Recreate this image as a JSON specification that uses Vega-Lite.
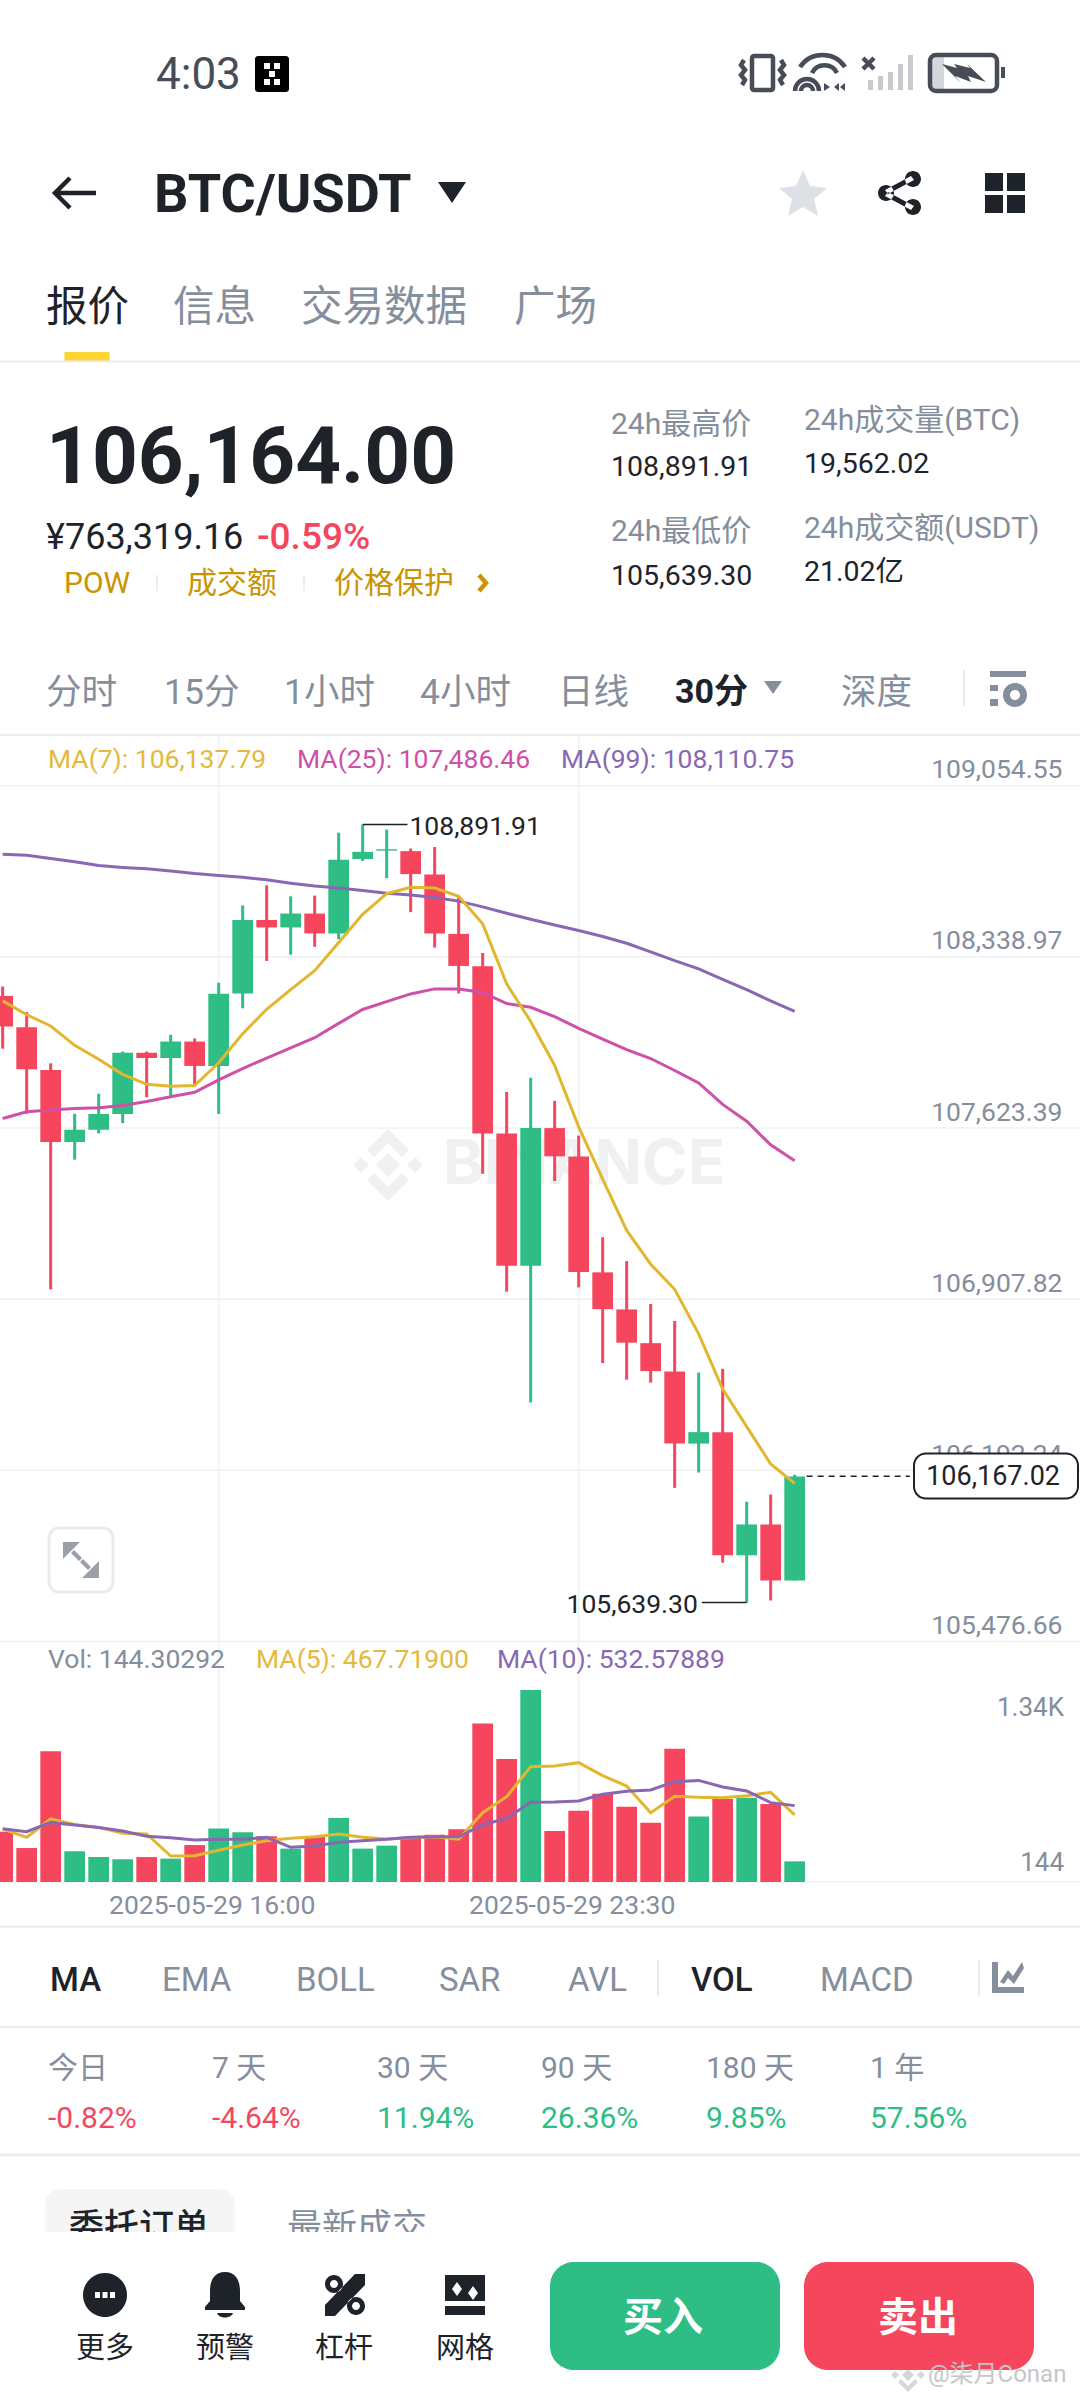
{
"$schema":"https://vega.github.io/schema/vega-lite/v6.json",
"width":1080,"height":2400,"padding":0,"autosize":{"type":"none"},"background":"#ffffff",
"config":{"view":{"stroke":null},"axis":{"labelFont":"Roboto"}},
"datasets":{
"candles":[
{"t":"2025-05-29T11:30:00","dir":"down","open":108175,"close":108048,"high":108215,"low":107955,"vol":351,"ma7":108155,"ma25":107663,"ma99":108768,"vma5":370,"vma10":372},
{"t":"2025-05-29T12:00:00","dir":"down","open":108045,"close":107869,"high":108108,"low":107683,"vol":237,"ma7":108097,"ma25":107691,"ma99":108764,"vma5":312,"vma10":351},
{"t":"2025-05-29T12:30:00","dir":"down","open":107866,"close":107565,"high":107894,"low":106949,"vol":912,"ma7":108050,"ma25":107699,"ma99":108750,"vma5":440,"vma10":416},
{"t":"2025-05-29T13:00:00","dir":"up","open":107565,"close":107616,"high":107683,"low":107491,"vol":214,"ma7":107969,"ma25":107705,"ma99":108737,"vma5":402,"vma10":398},
{"t":"2025-05-29T13:30:00","dir":"up","open":107616,"close":107682,"high":107767,"low":107601,"vol":174,"ma7":107911,"ma25":107708,"ma99":108721,"vma5":381,"vma10":381},
{"t":"2025-05-29T14:00:00","dir":"up","open":107682,"close":107938,"high":107943,"low":107644,"vol":158,"ma7":107848,"ma25":107718,"ma99":108713,"vma5":340,"vma10":356},
{"t":"2025-05-29T14:30:00","dir":"down","open":107938,"close":107916,"high":107943,"low":107752,"vol":174,"ma7":107806,"ma25":107734,"ma99":108707,"vma5":335,"vma10":319},
{"t":"2025-05-29T15:00:00","dir":"up","open":107916,"close":107985,"high":108013,"low":107759,"vol":163,"ma7":107798,"ma25":107754,"ma99":108698,"vma5":181,"vma10":309},
{"t":"2025-05-29T15:30:00","dir":"down","open":107985,"close":107883,"high":107998,"low":107801,"vol":258,"ma7":107801,"ma25":107773,"ma99":108687,"vma5":184,"vma10":293},
{"t":"2025-05-29T16:00:00","dir":"up","open":107883,"close":108185,"high":108231,"low":107682,"vol":374,"ma7":107896,"ma25":107825,"ma99":108679,"vma5":221,"vma10":298},
{"t":"2025-05-29T16:30:00","dir":"up","open":108186,"close":108493,"high":108554,"low":108124,"vol":347,"ma7":108017,"ma25":107872,"ma99":108672,"vma5":258,"vma10":298},
{"t":"2025-05-29T17:00:00","dir":"down","open":108493,"close":108462,"high":108638,"low":108322,"vol":319,"ma7":108120,"ma25":107916,"ma99":108661,"vma5":288,"vma10":312},
{"t":"2025-05-29T17:30:00","dir":"up","open":108462,"close":108520,"high":108592,"low":108348,"vol":233,"ma7":108202,"ma25":107958,"ma99":108647,"vma5":305,"vma10":242},
{"t":"2025-05-29T18:00:00","dir":"down","open":108520,"close":108437,"high":108595,"low":108381,"vol":314,"ma7":108281,"ma25":108001,"ma99":108635,"vma5":316,"vma10":251},
{"t":"2025-05-29T18:30:00","dir":"up","open":108437,"close":108745,"high":108858,"low":108413,"vol":447,"ma7":108399,"ma25":108061,"ma99":108627,"vma5":335,"vma10":277},
{"t":"2025-05-29T19:00:00","dir":"up","open":108748,"close":108778,"high":108891.91,"low":108740,"vol":233,"ma7":108517,"ma25":108119,"ma99":108616,"vma5":312,"vma10":288},
{"t":"2025-05-29T19:30:00","dir":"up","open":108783,"close":108789,"high":108871,"low":108668,"vol":254,"ma7":108603,"ma25":108152,"ma99":108605,"vma5":300,"vma10":298},
{"t":"2025-05-29T20:00:00","dir":"down","open":108781,"close":108685,"high":108792,"low":108526,"vol":312,"ma7":108630,"ma25":108184,"ma99":108598,"vma5":309,"vma10":312},
{"t":"2025-05-29T20:30:00","dir":"down","open":108683,"close":108437,"high":108798,"low":108378,"vol":330,"ma7":108627,"ma25":108205,"ma99":108587,"vma5":316,"vma10":316},
{"t":"2025-05-29T21:00:00","dir":"down","open":108435,"close":108301,"high":108595,"low":108186,"vol":368,"ma7":108592,"ma25":108205,"ma99":108572,"vma5":298,"vma10":316},
{"t":"2025-05-29T21:30:00","dir":"down","open":108300,"close":107601,"high":108355,"low":107432,"vol":1107,"ma7":108477,"ma25":108190,"ma99":108548,"vma5":484,"vma10":400},
{"t":"2025-05-29T22:00:00","dir":"down","open":107601,"close":107048,"high":107774,"low":106939,"vol":858,"ma7":108226,"ma25":108144,"ma99":108521,"vma5":595,"vma10":444},
{"t":"2025-05-29T22:30:00","dir":"up","open":107048,"close":107623,"high":107834,"low":106476,"vol":1340,"ma7":108069,"ma25":108128,"ma99":108496,"vma5":805,"vma10":556},
{"t":"2025-05-29T23:00:00","dir":"down","open":107623,"close":107505,"high":107737,"low":107402,"vol":356,"ma7":107885,"ma25":108089,"ma99":108472,"vma5":809,"vma10":558},
{"t":"2025-05-29T23:30:00","dir":"down","open":107504,"close":107021,"high":107592,"low":106957,"vol":498,"ma7":107628,"ma25":108040,"ma99":108449,"vma5":833,"vma10":565},
{"t":"2025-05-30T00:00:00","dir":"down","open":107020,"close":106866,"high":107167,"low":106641,"vol":616,"ma7":107410,"ma25":107995,"ma99":108424,"vma5":742,"vma10":612},
{"t":"2025-05-30T00:30:00","dir":"down","open":106865,"close":106726,"high":107067,"low":106571,"vol":526,"ma7":107195,"ma25":107951,"ma99":108396,"vma5":670,"vma10":633},
{"t":"2025-05-30T01:00:00","dir":"down","open":106724,"close":106607,"high":106888,"low":106559,"vol":414,"ma7":107054,"ma25":107914,"ma99":108360,"vma5":484,"vma10":642},
{"t":"2025-05-30T01:30:00","dir":"down","open":106605,"close":106304,"high":106817,"low":106119,"vol":930,"ma7":106949,"ma25":107864,"ma99":108323,"vma5":598,"vma10":700},
{"t":"2025-05-30T02:00:00","dir":"up","open":106304,"close":106352,"high":106601,"low":106183,"vol":458,"ma7":106763,"ma25":107812,"ma99":108289,"vma5":591,"vma10":709},
{"t":"2025-05-30T02:30:00","dir":"down","open":106352,"close":105837,"high":106617,"low":105806,"vol":579,"ma7":106532,"ma25":107722,"ma99":108245,"vma5":588,"vma10":663},
{"t":"2025-05-30T03:00:00","dir":"up","open":105837,"close":105966,"high":106061,"low":105639.3,"vol":588,"ma7":106375,"ma25":107652,"ma99":108202,"vma5":602,"vma10":635},
{"t":"2025-05-30T03:30:00","dir":"down","open":105966,"close":105732,"high":106091,"low":105648,"vol":544,"ma7":106219,"ma25":107553,"ma99":108155,"vma5":626,"vma10":554},
{"t":"2025-05-30T04:00:00","dir":"up","open":105732,"close":106167,"high":106174,"low":105732,"vol":144.3,"ma7":106138,"ma25":107487,"ma99":108111,"vma5":468,"vma10":533}
],
"ui":[
{"id":0,"key":"status","text":"4:03"},{"id":1,"key":"title","text":"BTC/USDT"},
{"id":2,"key":"tabOn","text":"报价"},{"id":3,"key":"tab","text":"信息"},{"id":4,"key":"tab","text":"交易数据"},{"id":5,"key":"tab","text":"广场"},
{"id":6,"key":"price","text":"106,164.00"},{"id":7,"key":"fiat","text":"¥763,319.16"},{"id":8,"key":"chg","text":"-0.59%"},
{"id":9,"key":"gold","text":"POW"},{"id":10,"key":"gold","text":"成交额"},{"id":11,"key":"gold","text":"价格保护"},
{"id":12,"key":"statLabel","text":"24h最高价"},{"id":13,"key":"statLabel","text":"24h最低价"},{"id":14,"key":"statLabel","text":"24h成交量(BTC)"},{"id":15,"key":"statLabel","text":"24h成交额(USDT)"},
{"id":16,"key":"statVal","text":"108,891.91"},{"id":17,"key":"statVal","text":"105,639.30"},{"id":18,"key":"statVal","text":"19,562.02"},{"id":19,"key":"statVal","text":"21.02亿"},
{"id":20,"key":"intv","text":"分时"},{"id":21,"key":"intv","text":"15分"},{"id":22,"key":"intv","text":"1小时"},{"id":23,"key":"intv","text":"4小时"},{"id":24,"key":"intv","text":"日线"},{"id":25,"key":"intv","text":"深度"},{"id":26,"key":"intvOn","text":"30分"},
{"id":27,"key":"maY","text":"MA(7): 106,137.79"},{"id":28,"key":"maP","text":"MA(25): 107,486.46"},{"id":29,"key":"maV","text":"MA(99): 108,110.75"},
{"id":30,"key":"gray","text":"Vol: 144.30292"},{"id":31,"key":"maY","text":"MA(5): 467.71900"},{"id":32,"key":"maV","text":"MA(10): 532.57889"},
{"id":33,"key":"axisR","text":"1.34K"},{"id":34,"key":"axisR","text":"144"},{"id":35,"key":"tagText","text":"106,167.02"},
{"id":36,"key":"indOn","text":"MA"},{"id":37,"key":"ind","text":"EMA"},{"id":38,"key":"ind","text":"BOLL"},{"id":39,"key":"ind","text":"SAR"},{"id":40,"key":"ind","text":"AVL"},{"id":41,"key":"indOn","text":"VOL"},{"id":42,"key":"ind","text":"MACD"},
{"id":43,"key":"period","text":"今日"},{"id":44,"key":"period","text":"7 天"},{"id":45,"key":"period","text":"30 天"},{"id":46,"key":"period","text":"90 天"},{"id":47,"key":"period","text":"180 天"},{"id":48,"key":"period","text":"1 年"},
{"id":49,"key":"pDown","text":"-0.82%"},{"id":50,"key":"pDown","text":"-4.64%"},{"id":51,"key":"pUp","text":"11.94%"},{"id":52,"key":"pUp","text":"26.36%"},{"id":53,"key":"pUp","text":"9.85%"},{"id":54,"key":"pUp","text":"57.56%"},
{"id":55,"key":"oTabOn","text":"委托订单"},{"id":56,"key":"oTab","text":"最新成交"},
{"id":57,"key":"nav","text":"更多"},{"id":58,"key":"nav","text":"预警"},{"id":59,"key":"nav","text":"杠杆"},{"id":60,"key":"nav","text":"网格"},
{"id":61,"key":"btn","text":"买入"},{"id":62,"key":"btn","text":"卖出"},{"id":63,"key":"wm","text":"@柒月Conan"},
{"id":64,"key":"okx"},{"id":64,"key":"okxDots"},{"id":65,"key":"vibrate"},{"id":66,"key":"wifi"},{"id":66,"key":"wifiArrows"},{"id":67,"key":"sigBars"},{"id":67,"key":"sigX"},
{"id":68,"key":"batFill"},{"id":68,"key":"batOut"},{"id":68,"key":"batNub"},{"id":68,"key":"bolt"},
{"id":69,"key":"back"},{"id":70,"key":"caret"},{"id":71,"key":"star"},{"id":72,"key":"share"},{"id":73,"key":"grid"},{"id":74,"key":"chevron"},
{"id":75,"key":"div"},{"id":76,"key":"div"},{"id":77,"key":"caret2"},{"id":78,"key":"divTall"},{"id":79,"key":"settings"},
{"id":80,"key":"expandBox"},{"id":80,"key":"expandArrows"},{"id":81,"key":"divTall"},{"id":82,"key":"divTall"},{"id":83,"key":"indicator"},
{"id":84,"key":"more"},{"id":84,"key":"moreDots"},{"id":85,"key":"bell"},{"id":86,"key":"percent"},{"id":87,"key":"gridBlock"},{"id":87,"key":"gridMarks"},{"id":88,"key":"wmark"},
{"id":89,"key":"underline"},{"id":90,"key":"tabbg"},{"id":91,"key":"navbg"},{"id":92,"key":"buy"},{"id":93,"key":"sell"},{"id":94,"key":"tag"},
{"id":95,"key":"sep"},{"id":96,"key":"sep"},{"id":97,"key":"sep"},{"id":98,"key":"sep"},{"id":99,"key":"sepThick"}
]
},
"resolve":{"scale":{"x":"independent","y":"independent","color":"independent","shape":"independent"}},
"layer":[
{
"data":{"values":[{"id":0,"key":"logo"},{"id":1,"key":"name","text":"BINANCE"}]},
"encoding":{
"x":{"field":"id","type":"quantitative","axis":null,"scale":{"domain":[0,1],"range":[388,584],"nice":false,"zero":false}},
"y":{"field":"id","type":"quantitative","axis":null,"scale":{"domain":[0,1],"range":[1165,1165],"nice":false,"zero":false}}
},
"layer":[
{"transform":[{"filter":"datum.key=='logo'"}],"mark":{"type":"point","filled":true,"size":4,"opacity":1,"color":"#EEF0F1","shape":"M0-12L12 0L0 12L-12 0Z M-27-8L-19 0L-27 8L-35 0Z M27-8L35 0L27 8L19 0Z M0-36L21-15L14-8L0-22L-14-8L-21-15Z M0 36L21 15L14 8L0 22L-14 8L-21 15Z"}},
{"transform":[{"filter":"datum.key=='name'"}],"mark":{"type":"text","font":"Inter","fontWeight":700,"fontSize":62,"align":"center","baseline":"middle","color":"#EEF0F1"},"encoding":{"text":{"field":"text"}}}
]
},
{
"data":{"values":[{"price":105476.66},{"price":106192.24},{"price":106907.82},{"price":107623.39},{"price":108338.97},{"price":109054.55}]},
"mark":{"type":"rule","color":"#EEF0F2","strokeWidth":1.5},
"encoding":{"y":{"field":"price","type":"quantitative","scale":{"domain":[105476.66,109054.55],"range":[1641.5,785.7],"nice":false,"zero":false},
"axis":{"orient":"right","offset":-18,"values":[105476.66,106192.24,106907.82,107623.39,108338.97,109054.55],"format":",.2f","title":null,"domain":false,"ticks":false,"grid":false,"labelAlign":"right","labelBaseline":"bottom","labelOffset":-2,"labelPadding":0,"labelColor":"#848E9C","labelFontSize":26.5,"labelOverlap":false}}}
},
{
"encoding":{"x":{"field":"t","type":"temporal","axis":null,"scale":{"domain":[{"year":2025,"month":5,"date":29,"hours":11,"minutes":30},{"year":2025,"month":5,"date":30,"hours":4}],"range":[2.67,794.67],"nice":false,"padding":0}}},
"layer":[
{"data":{"values":[{"t":"2025-05-29T16:00:00","top":109266,"bottom":104472},{"t":"2025-05-29T23:30:00","top":109266,"bottom":104472}]},
"mark":{"type":"rule","color":"#EEF0F2","strokeWidth":1.5},
"encoding":{"y":{"field":"top","type":"quantitative","axis":null,"scale":{"domain":[105476.66,109054.55],"range":[1641.5,785.7],"nice":false,"zero":false}},"y2":{"field":"bottom"}}},
{"data":{"name":"candles"},"mark":{"type":"rule","strokeWidth":3},
"encoding":{"y":{"field":"low","type":"quantitative","scale":{"domain":[105476.66,109054.55],"range":[1641.5,785.7],"nice":false,"zero":false}},"y2":{"field":"high"},
"color":{"field":"dir","type":"nominal","legend":null,"scale":{"domain":["up","down"],"range":["#2EBD85","#F6465D"]}}}},
{"data":{"name":"candles"},"mark":{"type":"bar","width":20.7},
"encoding":{"y":{"field":"open","type":"quantitative","scale":{"domain":[105476.66,109054.55],"range":[1641.5,785.7],"nice":false,"zero":false}},"y2":{"field":"close"},
"color":{"field":"dir","type":"nominal","legend":null,"scale":{"domain":["up","down"],"range":["#2EBD85","#F6465D"]}}}},
{"data":{"name":"candles"},"mark":{"type":"line","color":"#8A67B2","strokeWidth":3},
"encoding":{"y":{"field":"ma99","type":"quantitative","scale":{"domain":[105476.66,109054.55],"range":[1641.5,785.7],"nice":false,"zero":false}}}},
{"data":{"name":"candles"},"mark":{"type":"line","color":"#CE50A8","strokeWidth":3},
"encoding":{"y":{"field":"ma25","type":"quantitative","scale":{"domain":[105476.66,109054.55],"range":[1641.5,785.7],"nice":false,"zero":false}}}},
{"data":{"name":"candles"},"mark":{"type":"line","color":"#E3B62F","strokeWidth":3},
"encoding":{"y":{"field":"ma7","type":"quantitative","scale":{"domain":[105476.66,109054.55],"range":[1641.5,785.7],"nice":false,"zero":false}}}},
{"data":{"values":[{"t":"2025-05-29T19:00:00","t2":"2025-05-29T19:56:00","price":108891.91},{"t":"2025-05-30T03:00:00","t2":"2025-05-30T02:04:00","price":105639.3}]},
"mark":{"type":"rule","color":"#1E2329","strokeWidth":1.5},
"encoding":{"y":{"field":"price","type":"quantitative","scale":{"domain":[105476.66,109054.55],"range":[1641.5,785.7],"nice":false,"zero":false}},"x2":{"field":"t2"}}},
{"data":{"values":[{"t":"2025-05-30T04:15:00","t2":"2025-05-30T06:24:00","price":106167.02}]},
"mark":{"type":"rule","color":"#1E2329","strokeWidth":1.5,"strokeDash":[6,5]},
"encoding":{"y":{"field":"price","type":"quantitative","scale":{"domain":[105476.66,109054.55],"range":[1641.5,785.7],"nice":false,"zero":false}},"x2":{"field":"t2"}}},
{"data":{"values":[{"t":"2025-05-29T19:56:00","price":108891.91,"text":"108,891.91"}]},
"mark":{"type":"text","align":"left","baseline":"middle","dx":2,"dy":2,"font":"Roboto","fontSize":26.5,"color":"#1E2329"},
"encoding":{"y":{"field":"price","type":"quantitative","scale":{"domain":[105476.66,109054.55],"range":[1641.5,785.7],"nice":false,"zero":false}},"text":{"field":"text"}}},
{"data":{"values":[{"t":"2025-05-30T02:04:00","price":105639.3,"text":"105,639.30"}]},
"mark":{"type":"text","align":"right","baseline":"middle","dx":-4,"dy":2,"font":"Roboto","fontSize":26.5,"color":"#1E2329"},
"encoding":{"y":{"field":"price","type":"quantitative","scale":{"domain":[105476.66,109054.55],"range":[1641.5,785.7],"nice":false,"zero":false}},"text":{"field":"text"}}}
]
},
{
"data":{"values":[{"vol":0}]},
"mark":{"type":"rule","color":"#EEF0F2","strokeWidth":1.5},
"encoding":{"y":{"field":"vol","type":"quantitative","axis":null,"scale":{"domain":[0,1340],"range":[1882,1690],"nice":false}}}
},
{
"data":{"name":"candles"},
"encoding":{"x":{"field":"t","type":"temporal","scale":{"domain":[{"year":2025,"month":5,"date":29,"hours":11,"minutes":30},{"year":2025,"month":5,"date":30,"hours":4}],"range":[2.67,794.67],"nice":false,"padding":0},
"axis":{"orient":"bottom","offset":-518,"title":null,"domain":false,"ticks":false,"grid":false,"values":[{"year":2025,"month":5,"date":29,"hours":16},{"year":2025,"month":5,"date":29,"hours":23,"minutes":30}],"format":"%Y-%m-%d %H:%M","labelColor":"#848E9C","labelFontSize":26.5,"labelPadding":10,"labelOffset":-7,"labelOverlap":false,"labelFlush":false,"labelLimit":400}}},
"layer":[
{"mark":{"type":"bar","width":20.7},
"encoding":{"y":{"field":"vol","type":"quantitative","axis":null,"scale":{"domain":[0,1340],"range":[1882,1690],"nice":false}},
"color":{"field":"dir","type":"nominal","legend":null,"scale":{"domain":["up","down"],"range":["#2EBD85","#F6465D"]}}}},
{"mark":{"type":"line","color":"#E3B62F","strokeWidth":3},
"encoding":{"y":{"field":"vma5","type":"quantitative","scale":{"domain":[0,1340],"range":[1882,1690],"nice":false}}}},
{"mark":{"type":"line","color":"#8A67B2","strokeWidth":3},
"encoding":{"y":{"field":"vma10","type":"quantitative","scale":{"domain":[0,1340],"range":[1882,1690],"nice":false}}}}
]
},
{
"data":{"name":"ui"},
"encoding":{
"x":{"field":"id","type":"quantitative","axis":null,"scale":{"nice":false,"zero":false,
"domain":[0,1,2,3,4,5,6,7,8,9,10,11,12,13,14,15,16,17,18,19,20,21,22,23,24,25,26,27,28,29,30,31,32,33,34,35,36,37,38,39,40,41,42,43,44,45,46,47,48,49,50,51,52,53,54,55,56,57,58,59,60,61,62,63,64,65,66,67,68,69,70,71,72,73,74,75,76,77,78,79,80,81,82,83,84,85,86,87,88,89,90,91,92,93,94,95,96,97,98,99],
"range":[156,154,46,173,301,514,46,46,257,64,187,334,611,611,804,804,611,611,804,804,46,164,284,420,558,841,675,48,297,561,48,256,497,1064,1064,1060,50,162,296,439,568,691,820,48,212,377,541,706,870,48,212,377,541,706,870,69,287,105,225,344,465,663,918,928,272,762,821,888,966,76,452,803,900,1005,482,157,304,773,964,1008,81,658,979,1008,105,225,345,465,908,87,140,540,665,919,996,540,540,540,540,540]}},
"y":{"field":"id","type":"quantitative","axis":null,"scale":{"nice":false,"zero":false,
"domain":[0,1,2,3,4,5,6,7,8,9,10,11,12,13,14,15,16,17,18,19,20,21,22,23,24,25,26,27,28,29,30,31,32,33,34,35,36,37,38,39,40,41,42,43,44,45,46,47,48,49,50,51,52,53,54,55,56,57,58,59,60,61,62,63,64,65,66,67,68,69,70,71,72,73,74,75,76,77,78,79,80,81,82,83,84,85,86,87,88,89,90,91,92,93,94,95,96,97,98,99],
"range":[76,196,309,309,309,309,459,538,538,584,584,584,425,532,421,529,467,576,464,572,693,693,693,693,693,693,693,760,760,760,1660,1660,1660,1708,1863,1477,1981,1981,1981,1981,1981,1981,1981,2069,2069,2069,2069,2069,2069,2119,2119,2119,2119,2119,2119,2228,2228,2349,2349,2349,2349,2319,2319,2375,74,73,73,73,73,193,192,194,193,193,583,583,583,687,688,689,1560,1978,1978,1978,2295,2295,2295,2295,2375,356.5,2220,2316,2316,2316,1476,361.5,735,1926.7,2027,2155]}},
"color":{"field":"key","type":"nominal","legend":null,"scale":{
"domain":["status","title","tabOn","tab","price","fiat","chg","gold","statLabel","statVal","intv","intvOn","maY","maP","maV","gray","axisR","tagText","indOn","ind","period","pDown","pUp","oTabOn","oTab","nav","btn","wm","okx","okxDots","vibrate","wifi","wifiArrows","sigBars","sigX","batFill","batOut","batNub","bolt","back","caret","star","share","grid","chevron","div","caret2","divTall","settings","expandBox","expandArrows","indicator","more","moreDots","bell","percent","gridBlock","gridMarks","wmark","underline","tabbg","navbg","buy","sell","tag","sep","sepThick"],
"range":["#474D57","#1E2329","#1E2329","#848E9C","#1E2329","#1E2329","#F6465D","#C99400","#848E9C","#1E2329","#848E9C","#1E2329","#E3B93E","#CE50A8","#8A67B2","#848E9C","#848E9C","#1E2329","#1E2329","#848E9C","#848E9C","#F6465D","#2EBD85","#1E2329","#848E9C","#1E2329","#FFFFFF","#C4C6CA","#000000","#FFFFFF","#474D57","#474D57","#474D57","#C8CACD","#474D57","#D5D7DA","#474D57","#474D57","#474D57","#1E2329","#1E2329","#DDE0E5","#1E2329","#1E2329","#C99400","#EAECEF","#848E9C","#EAECEF","#848E9C","#E8EBEF","#9AA0A8","#848E9C","#1E2329","#FFFFFF","#1E2329","#1E2329","#1E2329","#FFFFFF","#D5D7DA","#FCD535","#F5F5F5","#FFFFFF","#2EBD85","#F6465D","#1E2329","#EAECEF","#EAECEF"]}},
"shape":{"field":"key","type":"nominal","legend":null,"scale":{
"domain":["okx","okxDots","vibrate","wifi","wifiArrows","sigBars","sigX","batFill","batOut","batNub","bolt","back","caret","star","share","grid","chevron","div","caret2","divTall","settings","expandBox","expandArrows","indicator","more","moreDots","bell","percent","gridBlock","gridMarks","wmark","underline","tabbg","navbg","buy","sell","tag","sep","sepThick"],
"range":[
"M-14-18H14A3 3 0 0 1 17-15V15A3 3 0 0 1 14 18H-14A3 3 0 0 1-17 15V-15A3 3 0 0 1-14-18Z",
"M-8-11H-2V-5H-8Z M2-11H8V-5H2Z M-3-3H3V3H-3Z M-8 5H-2V11H-8Z M2 5H8V11H2Z",
"M-8-17H9A2 2 0 0 1 11-15V15A2 2 0 0 1 9 17H-8A2 2 0 0 1-10 15V-15A2 2 0 0 1-8-17Z M-18-13L-21-8L-17-3L-21 2L-17 7L-20 12 M19-13L22-8L18-3L22 2L18 7L21 12",
"M-21-6A27 27 0 0 1 24-6 M-9 0A14 14 0 0 1 16 0 M-26 18A12 12 0 0 1-2 18 M-20 18A6 6 0 0 1-8 18",
"M3 10L9 14L3 18Z M13 14L18 10V18Z M24 10V18L19 14Z",
"M-20 7h5v10h-5Z M-10 3h5v14h-5Z M0-1h5v18h-5Z M10-9h5v26h-5Z M20-18h5v35h-5Z",
"M-25-15L-14-4M-14-15L-25-4",
"M-34-16H-22V16H-34Z",
"M-30-18H25A6 6 0 0 1 31-12V12A6 6 0 0 1 25 18H-30A6 6 0 0 1-36 12V-12A6 6 0 0 1-30-18Z",
"M35-6H39V5H35Z",
"M-24-9L-9-5L-12-9L4-5L1-9L20 9L2 3L5 9L-11 3L-5 10Z",
"M20 0H-20 M-6-15L-21 0L-6 15",
"M-14-10H14L0 11Z",
"M0-24L7-8L24-6L11 5L15 22L0 13L-15 22L-11 5L-24-6L-7-8Z",
"M-22 0a8 8 0 1 0 16 0a8 8 0 1 0-16 0Z M5-14a8 8 0 1 0 16 0a8 8 0 1 0-16 0Z M5 14a8 8 0 1 0 16 0a8 8 0 1 0-16 0Z M-15-3L11-17L14-13L-12 1Z M-15 3L-12-1L14 13L11 17Z",
"M-20-20H-2V-2H-20Z M2-20H20V-2H2Z M-20 2H-2V20H-20Z M2 2H20V20H2Z",
"M-3-8L4 0L-3 8",
"M-1-8H1V8H-1Z",
"M-9-6H9L0 7Z",
"M-1-18H1V18H-1Z",
"M-18-18H18V-12H-18Z M-18-4H-10V2H-18Z M-18 10H-10V17H-18Z M-5 6a12 12 0 1 0 24 0a12 12 0 1 0-24 0Z M2 6a5 5 0 1 1 10 0a5 5 0 1 1-10 0Z",
"M-22-32H22A10 10 0 0 1 32-22V22A10 10 0 0 1 22 32H-22A10 10 0 0 1-32 22V-22A10 10 0 0 1-22-32Z",
"M-18-18H-1L-18-1Z M-10-7L-7-10L1-2L-2 1Z M18 18H1L18 1Z M10 7L7 10L-1 2L2-1Z",
"M-16-16H-10V9H16V15H-16Z M-8 4L0-8L5-2L14-16L16-10L6 6L0 0L-4 6Z",
"M-22 0a22 22 0 1 0 44 0a22 22 0 1 0-44 0Z",
"M-10-3h5v6h-5Z M-2.500-3h5v6h-5Z M5-3h5v6h-5Z",
"M0-23C-11-23-15-14-15-4V6L-20 12V15H20V12L15 6V-4C15-14 11-23 0-23Z M-8 18H8C6 24-6 24-8 18Z",
"M10-21H20V-10L-10 21H-20V10Z M-20-11a9 9 0 1 0 18 0a9 9 0 1 0-18 0Z M-15-11a4 4 0 1 1 8 0a4 4 0 1 1-8 0Z M2 11a9 9 0 1 0 18 0a9 9 0 1 0-18 0Z M7 11a4 4 0 1 1 8 0a4 4 0 1 1-8 0Z",
"M-20-20H20V6H-20Z M-20 11H20V20H-20Z",
"M-13-6L-8-13L-3-6L-8 1Z M3-2L8-9L13-2L8 5Z",
"M0-6L6 0L0 6L-6 0Z M-13-4L-9 0L-13 4L-17 0Z M13-4L17 0L13 4L9 0Z M0-17L10-7L7-4L0-11L-7-4L-10-7Z M0 17L10 7L7 4L0 11L-7 4L-10 7Z",
"M-22.500-4.500H22.500V4.500H-22.500Z",
"M-79-31H79A16 16 0 0 1 95-15V31H-95V-15A16 16 0 0 1-79-31Z",
"M-540-84H540V84H-540Z",
"M-91-54H91A24 24 0 0 1 115-30V30A24 24 0 0 1 91 54H-91A24 24 0 0 1-115 30V-30A24 24 0 0 1-91-54Z",
"M-91-54H91A24 24 0 0 1 115-30V30A24 24 0 0 1 91 54H-91A24 24 0 0 1-115 30V-30A24 24 0 0 1-91-54Z",
"M-70-22.500H70A12 12 0 0 1 82-10.500V10.500A12 12 0 0 1 70 22.500H-70A12 12 0 0 1-82 10.500V-10.500A12 12 0 0 1-70-22.500Z",
"M-540-1H540V1H-540Z",
"M-540-1.500H540V1.500H-540Z"]}}
},
"layer":[
{"transform":[{"filter":{"field":"key","oneOf":["sep","sepThick","underline","tabbg"]}}],"mark":{"type":"point","filled":true,"size":4,"opacity":1}},
{"transform":[{"filter":{"field":"key","oneOf":["oTabOn"]}}],"mark":{"type":"text","align":"left","baseline":"middle","font":"Noto Sans CJK SC","fontSize":35,"fontWeight":500},"encoding":{"text":{"field":"text"}}},
{"transform":[{"filter":{"field":"key","oneOf":["oTab"]}}],"mark":{"type":"text","align":"left","baseline":"middle","font":"Noto Sans CJK SC","fontSize":35},"encoding":{"text":{"field":"text"}}},
{"transform":[{"filter":{"field":"key","oneOf":["navbg"]}}],"mark":{"type":"point","filled":true,"size":4,"opacity":1}},
{"transform":[{"filter":{"field":"key","oneOf":["buy","sell","okx","sigBars","batFill","batNub","caret","star","share","grid","div","caret2","divTall","settings","indicator","more","bell","percent","gridBlock","wifiArrows","wmark"]}}],"mark":{"type":"point","filled":true,"size":4,"opacity":1}},
{"transform":[{"filter":{"field":"key","oneOf":["tag"]}}],"mark":{"type":"point","filled":true,"size":4,"opacity":1,"fill":"#ffffff","stroke":"#1E2329","strokeWidth":2}},
{"transform":[{"filter":{"field":"key","oneOf":["back","chevron","vibrate","wifi","sigX","batOut"]}}],"mark":{"type":"point","filled":false,"size":4,"opacity":1,"strokeWidth":4.5}},
{"transform":[{"filter":{"field":"key","oneOf":["expandBox"]}}],"mark":{"type":"point","filled":false,"size":4,"opacity":1,"strokeWidth":3}},
{"transform":[{"filter":{"field":"key","oneOf":["okxDots","moreDots","gridMarks","bolt","expandArrows"]}}],"mark":{"type":"point","filled":true,"size":4,"opacity":1}},
{"transform":[{"filter":{"field":"key","oneOf":["status"]}}],"mark":{"type":"text","align":"left","baseline":"middle","font":"Roboto","fontSize":44},"encoding":{"text":{"field":"text"}}},
{"transform":[{"filter":{"field":"key","oneOf":["title"]}}],"mark":{"type":"text","align":"left","baseline":"middle","font":"Roboto","fontSize":54,"fontWeight":700},"encoding":{"text":{"field":"text"}}},
{"transform":[{"filter":{"field":"key","oneOf":["tabOn","tab"]}}],"mark":{"type":"text","align":"left","baseline":"middle","font":"Noto Sans CJK SC","fontSize":41.5},"encoding":{"text":{"field":"text"}}},
{"transform":[{"filter":{"field":"key","oneOf":["price"]}}],"mark":{"type":"text","align":"left","baseline":"middle","font":"Roboto","fontSize":80,"fontWeight":700},"encoding":{"text":{"field":"text"}}},
{"transform":[{"filter":{"field":"key","oneOf":["fiat"]}}],"mark":{"type":"text","align":"left","baseline":"middle","font":"Roboto","fontSize":36},"encoding":{"text":{"field":"text"}}},
{"transform":[{"filter":{"field":"key","oneOf":["chg"]}}],"mark":{"type":"text","align":"left","baseline":"middle","font":"Roboto","fontSize":37,"fontWeight":500},"encoding":{"text":{"field":"text"}}},
{"transform":[{"filter":{"field":"key","oneOf":["gold","statLabel"]}}],"mark":{"type":"text","align":"left","baseline":"middle","font":"Roboto, 'Noto Sans CJK SC'","fontSize":30},"encoding":{"text":{"field":"text"}}},
{"transform":[{"filter":{"field":"key","oneOf":["statVal"]}}],"mark":{"type":"text","align":"left","baseline":"middle","font":"Roboto, 'Noto Sans CJK SC'","fontSize":28.5},"encoding":{"text":{"field":"text"}}},
{"transform":[{"filter":{"field":"key","oneOf":["pDown","pUp","period"]}}],"mark":{"type":"text","align":"left","baseline":"middle","font":"Roboto, 'Noto Sans CJK SC'","fontSize":30},"encoding":{"text":{"field":"text"}}},
{"transform":[{"filter":{"field":"key","oneOf":["intv"]}}],"mark":{"type":"text","align":"left","baseline":"middle","font":"Roboto, 'Noto Sans CJK SC'","fontSize":35.5},"encoding":{"text":{"field":"text"}}},
{"transform":[{"filter":{"field":"key","oneOf":["intvOn"]}}],"mark":{"type":"text","align":"left","baseline":"middle","font":"Roboto, 'Noto Sans CJK SC'","fontSize":34,"fontWeight":700},"encoding":{"text":{"field":"text"}}},
{"transform":[{"filter":{"field":"key","oneOf":["maY","maP","maV","gray"]}}],"mark":{"type":"text","align":"left","baseline":"middle","font":"Roboto","fontSize":26.5},"encoding":{"text":{"field":"text"}}},
{"transform":[{"filter":{"field":"key","oneOf":["axisR"]}}],"mark":{"type":"text","align":"right","baseline":"middle","font":"Roboto","fontSize":26},"encoding":{"text":{"field":"text"}}},
{"transform":[{"filter":{"field":"key","oneOf":["tagText"]}}],"mark":{"type":"text","align":"right","baseline":"middle","font":"Roboto","fontSize":27},"encoding":{"text":{"field":"text"}}},
{"transform":[{"filter":{"field":"key","oneOf":["ind"]}}],"mark":{"type":"text","align":"left","baseline":"middle","font":"Roboto","fontSize":33},"encoding":{"text":{"field":"text"}}},
{"transform":[{"filter":{"field":"key","oneOf":["indOn"]}}],"mark":{"type":"text","align":"left","baseline":"middle","font":"Roboto","fontSize":33,"fontWeight":500},"encoding":{"text":{"field":"text"}}},
{"transform":[{"filter":{"field":"key","oneOf":["nav"]}}],"mark":{"type":"text","align":"center","baseline":"middle","font":"Noto Sans CJK SC","fontSize":29},"encoding":{"text":{"field":"text"}}},
{"transform":[{"filter":{"field":"key","oneOf":["btn"]}}],"mark":{"type":"text","align":"center","baseline":"middle","font":"Noto Sans CJK SC","fontSize":40,"fontWeight":700},"encoding":{"text":{"field":"text"}}},
{"transform":[{"filter":{"field":"key","oneOf":["wm"]}}],"mark":{"type":"text","align":"left","baseline":"middle","font":"Roboto, 'Noto Sans CJK SC'","fontSize":24},"encoding":{"text":{"field":"text"}}}
]
}
]
}
